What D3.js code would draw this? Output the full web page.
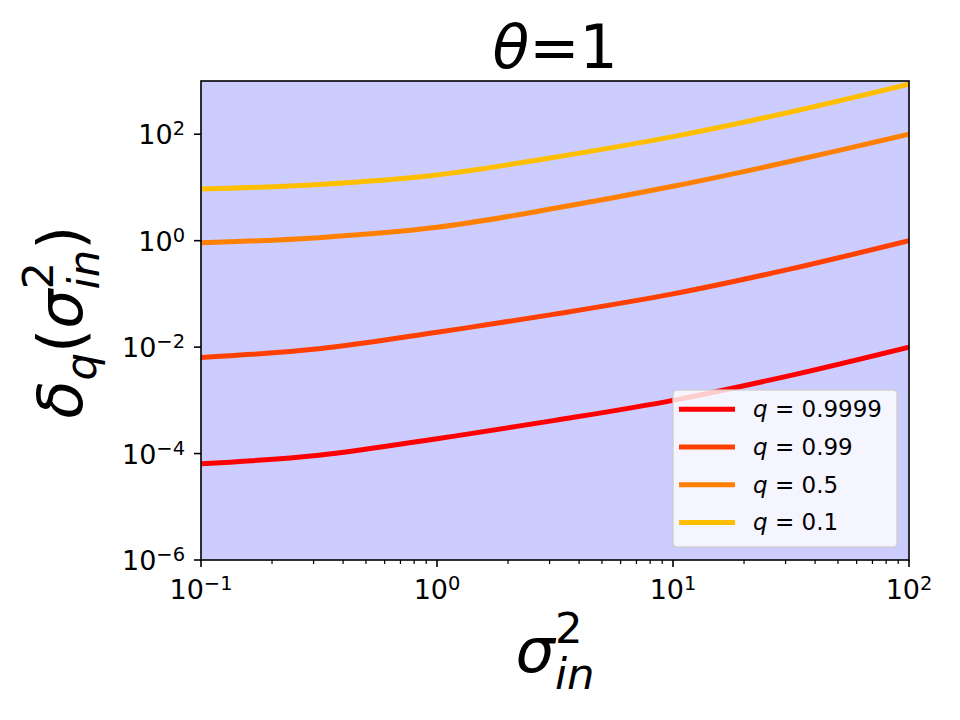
<!DOCTYPE html>
<html>
<head>
<meta charset="utf-8">
<script src="https://cdn.jsdelivr.net/npm/d3@7"></script>
<style>
  body { margin: 0; background: #fff; }
  text { font-family: "DejaVu Sans", sans-serif; fill: #000; }
</style>
</head>
<body>
<div id="chart"></div>
<script>
// values (log-log plot)
const sigma = [0.1, 0.316, 1, 3.16, 10, 31.6, 100];
const delta9999 = [6.4e-5, 9.3e-5, 1.9e-4, 4.2e-4, 1.0e-3, 2.95e-3, 1.0e-2];
const delta99 = [0.0064, 0.0093, 0.019, 0.0417, 0.100, 0.295, 1.0];
const delta05 = [0.91, 1.14, 1.78, 4.05, 10.5, 31, 100];
const delta01 = [9.3, 11.4, 17.2, 37, 90, 262, 870];
const qLabels = ["0.9999", "0.99", "0.5", "0.1"];
const colors = ["#ff0000", "#ff4000", "#ff8000", "#ffbf00"];
const xTicks = [0.1, 1, 10, 100];
const yTicks = [1e-6, 1e-4, 1e-2, 1, 100];

const series = [delta9999, delta99, delta05, delta01].map((vals, i) => ({
    label: qLabels[i],
    color: colors[i],
    values: sigma.map((s, j) => ({s: s, v: vals[j]}))
}));

const W = 960, H = 720;
const margin = {top: 81, right: 51, bottom: 160, left: 201};
const width = W - margin.left - margin.right;
const height = H - margin.top - margin.bottom;

const svg = d3.select("#chart").append("svg")
    .attr("width", W)
    .attr("height", H);

const g = svg.append("g")
    .attr("transform", "translate(" + margin.left + "," + margin.top + ")");

const x = d3.scaleLog().domain([0.1, 100]).range([0, width]);
const y = d3.scaleLog().domain([1e-6, 1e3]).range([height, 0]);

g.append("rect")
    .attr("width", width)
    .attr("height", height)
    .attr("fill", "#ccccff");

g.append("clipPath").attr("id", "clip")
    .append("rect").attr("width", width).attr("height", height);

const line = d3.line()
    .x(d => x(d.s))
    .y(d => y(d.v))
    .curve(d3.curveCatmullRom.alpha(0.5));

g.append("g").attr("clip-path", "url(#clip)")
    .selectAll("path")
    .data(series)
    .enter().append("path")
    .attr("d", d => line(d.values))
    .attr("fill", "none")
    .attr("stroke", d => d.color)
    .attr("stroke-width", 5);

// superscript tick labels like 10^-1
function powLabel(sel, v) {
    const e = Math.round(Math.log10(v));
    sel.text("10");
    sel.append("tspan")
        .attr("dy", "-0.45em")
        .attr("font-size", "0.72em")
        .text(String(e).replace("-", "\u2212"));
}

const tickFont = 27;

// x axis
const xAxis = g.append("g").attr("transform", "translate(0," + height + ")");
const xMinor = [];
[0.1, 1, 10].forEach(d => { for (let k = 2; k < 10; k++) xMinor.push(d * k); });
xAxis.selectAll(".minor").data(xMinor).enter().append("line")
    .attr("x1", d => x(d)).attr("x2", d => x(d))
    .attr("y1", 0).attr("y2", 4)
    .attr("stroke", "#000").attr("stroke-width", 1.2);
xAxis.selectAll(".major").data(xTicks).enter().append("line")
    .attr("x1", d => x(d)).attr("x2", d => x(d))
    .attr("y1", 0).attr("y2", 7)
    .attr("stroke", "#000").attr("stroke-width", 1.6);
xAxis.selectAll("text.tl").data(xTicks).enter().append("text")
    .attr("class", "tl")
    .attr("x", d => x(d))
    .attr("y", 39)
    .attr("text-anchor", "middle")
    .attr("font-size", tickFont)
    .each(function(d) { powLabel(d3.select(this), d); });

// y axis
const yAxis = g.append("g");
yAxis.selectAll(".major").data(yTicks).enter().append("line")
    .attr("x1", -7).attr("x2", 0)
    .attr("y1", d => y(d)).attr("y2", d => y(d))
    .attr("stroke", "#000").attr("stroke-width", 1.6);
yAxis.selectAll("text.tl").data(yTicks).enter().append("text")
    .attr("class", "tl")
    .attr("x", -16)
    .attr("y", d => y(d) + 10)
    .attr("text-anchor", "end")
    .attr("font-size", tickFont)
    .each(function(d) { powLabel(d3.select(this), d); });

// frame
g.append("rect")
    .attr("width", width)
    .attr("height", height)
    .attr("fill", "none")
    .attr("stroke", "#000")
    .attr("stroke-width", 1.6);

// math text built piece by piece; pieces flagged "hold" share x with the next one
function mathText(parent, pieces, size) {
    const grp = parent.append("g");
    let cx = 0, held = 0;
    pieces.forEach(p => {
        const fs = p.small ? size * 0.7 : size;
        const t = grp.append("text")
            .attr("x", cx)
            .attr("y", (p.dy || 0) * size)
            .attr("font-size", fs)
            .attr("font-style", p.it ? "italic" : "normal")
            .text(p.t);
        const w = t.node().getComputedTextLength();
        if (p.hold) {
            held = w;
        } else {
            cx += Math.max(w, held);
            held = 0;
        }
    });
    grp.selectAll("text").attr("x", function() { return +d3.select(this).attr("x") - cx / 2; });
    return grp;
}

const labelFont = 62;

// title
mathText(svg.append("g").attr("transform", "translate(555,68)"), [
    {t: "\u03b8", it: true},
    {t: "=1"}
], 60);

// x label
mathText(svg.append("g").attr("transform", "translate(555,672)"), [
    {t: "\u03c3", it: true},
    {t: "2", small: true, dy: -0.47, hold: true},
    {t: "in", small: true, it: true, dy: 0.27}
], labelFont);

// y label
mathText(svg.append("g").attr("transform", "translate(82,322) rotate(-90)"), [
    {t: "\u03b4", it: true},
    {t: "q", small: true, it: true, dy: 0.22},
    {t: "("},
    {t: "\u03c3", it: true},
    {t: "2", small: true, dy: -0.47, hold: true},
    {t: "in", small: true, it: true, dy: 0.27},
    {t: ")"}
], labelFont);

// legend
const legend = svg.append("g").attr("transform", "translate(673,390)");
legend.append("rect")
    .attr("width", 224)
    .attr("height", 157)
    .attr("rx", 4)
    .attr("fill", "#ffffff")
    .attr("fill-opacity", 0.8)
    .attr("stroke", "#cccccc")
    .attr("stroke-opacity", 0.8)
    .attr("stroke-width", 1.6);

const rows = legend.selectAll(".row").data(series).enter().append("g")
    .attr("transform", (d, i) => "translate(0," + (19.3 + i * 37.7) + ")");
rows.append("line")
    .attr("x1", 6).attr("x2", 62)
    .attr("stroke", d => d.color)
    .attr("stroke-width", 5);
const lt = rows.append("text")
    .attr("x", 80)
    .attr("y", 8)
    .attr("font-size", 23);
lt.append("tspan").attr("font-style", "italic").text("q");
lt.append("tspan").text(d => " = " + d.label);
</script>
</body>
</html>
